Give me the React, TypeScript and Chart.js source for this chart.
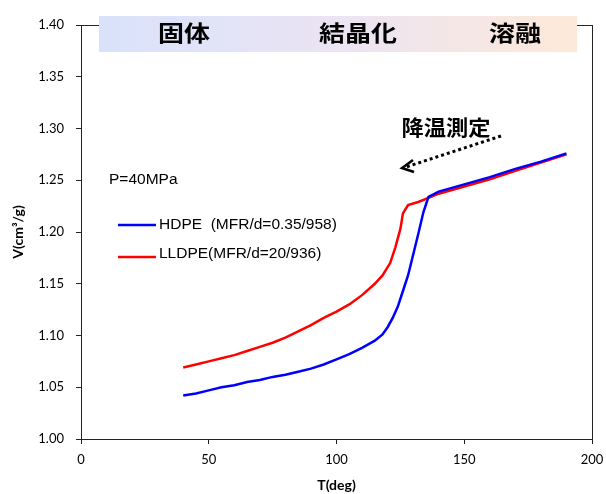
import React, { useEffect, useRef } from "react";
import { Chart, registerables } from "chart.js";

Chart.register(...registerables);

const hdpeT = [40, 45, 50, 55, 60, 65, 70, 75, 80, 85, 90, 95, 100, 105, 110, 115, 118, 120, 122, 124, 126, 128, 130, 132, 134, 136, 140, 150, 160, 170, 180, 190];
const hdpeV = [1.042, 1.044, 1.047, 1.050, 1.052, 1.055, 1.057, 1.060, 1.062, 1.065, 1.068, 1.072, 1.077, 1.082, 1.088, 1.095, 1.101, 1.108, 1.117, 1.128, 1.143, 1.158, 1.178, 1.198, 1.219, 1.234, 1.239, 1.246, 1.253, 1.261, 1.268, 1.276];

const lldpeT = [40, 45, 50, 55, 60, 65, 70, 75, 80, 85, 90, 95, 100, 105, 110, 115, 118, 121, 123, 125, 126, 128, 132, 136, 140, 150, 160, 170, 180, 190];
const lldpeV = [1.069, 1.072, 1.075, 1.078, 1.081, 1.085, 1.089, 1.093, 1.098, 1.104, 1.110, 1.117, 1.123, 1.130, 1.139, 1.150, 1.158, 1.170, 1.185, 1.203, 1.218, 1.226, 1.229, 1.233, 1.237, 1.244, 1.251, 1.259, 1.267, 1.275];

const seriesLabels = ["HDPE  (MFR/d=0.35/958)", "LLDPE(MFR/d=20/936)"];
const seriesColors = ["#0000ff", "#ff0000"];
const phaseLabels = ["固体", "結晶化", "溶融"];
const noteText = "降温測定";
const pressureText = "P=40MPa";
const xTitle = "T(deg)";
const yTitle = "V(cm³/g)";

const decorPlugin = {
  id: "decor",
  beforeDatasetsDraw(chart: any) {
    const { ctx, chartArea } = chart;
    const { left, top, right, bottom } = chartArea;
    ctx.save();
    ctx.strokeStyle = "#222";
    ctx.lineWidth = 1;
    ctx.strokeRect(Math.round(left) + 0.5, Math.round(top) + 0.5, Math.round(right - left), Math.round(bottom - top));
    ctx.restore();
  },
  afterDraw(chart: any) {
    const { ctx } = chart;
    ctx.save();
    // banner
    const bx0 = 99, bx1 = 577, by0 = 16, by1 = 52;
    const g = ctx.createLinearGradient(bx0, 0, bx1, 0);
    g.addColorStop(0, "#d9e2fb");
    g.addColorStop(0.5, "#ebe4f3");
    g.addColorStop(1, "#fde9d8");
    ctx.fillStyle = g;
    ctx.fillRect(bx0, by0, bx1 - bx0, by1 - by0);

    const stretched = (text: string, cx: number, cy: number, size: number, sx: number) => {
      ctx.save();
      ctx.translate(cx, cy);
      ctx.scale(sx, 1);
      ctx.font = `bold ${size}px "Noto Sans CJK JP"`;
      ctx.fillStyle = "#000";
      ctx.textAlign = "center";
      ctx.textBaseline = "middle";
      ctx.fillText(text, 0, 0);
      ctx.restore();
    };
    const centers = [184, 358, 515];
    phaseLabels.forEach((t, i) => stretched(t, centers[i], 33, 22, 1.18));
    stretched(noteText, 446, 127, 21, 1.06);

    // dotted arrow
    ctx.strokeStyle = "#000";
    ctx.lineWidth = 3;
    ctx.setLineDash([3, 3]);
    ctx.beginPath();
    ctx.moveTo(501, 136);
    ctx.lineTo(406, 167);
    ctx.stroke();
    ctx.setLineDash([]);
    ctx.lineWidth = 2.5;
    ctx.beginPath();
    ctx.moveTo(413, 160);
    ctx.lineTo(402, 168);
    ctx.lineTo(414, 172);
    ctx.stroke();

    // pressure text & legend
    ctx.font = '15.5px "Liberation Sans"';
    ctx.fillStyle = "#000";
    ctx.textAlign = "left";
    ctx.textBaseline = "middle";
    ctx.fillText(pressureText, 109, 180);
    const ly = [225, 257];
    const ty = [225, 254];
    seriesLabels.forEach((lab, i) => {
      ctx.strokeStyle = seriesColors[i];
      ctx.lineWidth = 2.5;
      ctx.beginPath();
      ctx.moveTo(118, ly[i]);
      ctx.lineTo(156, ly[i]);
      ctx.stroke();
      ctx.fillStyle = "#000";
      ctx.fillText(lab, 159, ty[i]);
    });
    ctx.restore();
  },
};

export default function App() {
  const ref = useRef<HTMLCanvasElement>(null);
  useEffect(() => {
    if (!ref.current) return;
    const tickFont = { family: "Lato", size: 13 };
    const titleFont = { family: "Lato", size: 14, weight: "bold" as const };
    const chart = new Chart(ref.current, {
      type: "line",
      data: {
        datasets: [
          {
            label: seriesLabels[0],
            data: hdpeT.map((t, i) => ({ x: t, y: hdpeV[i] })),
            borderColor: seriesColors[0],
            backgroundColor: seriesColors[0],
            borderWidth: 2.5,
            pointRadius: 0,
            tension: 0,
          },
          {
            label: seriesLabels[1],
            data: lldpeT.map((t, i) => ({ x: t, y: lldpeV[i] })),
            borderColor: seriesColors[1],
            backgroundColor: seriesColors[1],
            borderWidth: 2.5,
            pointRadius: 0,
            tension: 0,
          },
        ],
      },
      options: {
        animation: false,
        responsive: false,
        devicePixelRatio: 1,
        layout: { padding: { top: 25, right: 14, left: 0, bottom: 0 } },
        plugins: { legend: { display: false }, tooltip: { enabled: false } },
        scales: {
          x: {
            type: "linear",
            min: 0,
            max: 200,
            ticks: { stepSize: 50, font: tickFont, color: "#000", padding: 8, maxRotation: 0 },
            grid: { display: true, drawOnChartArea: false, drawTicks: true, tickLength: 5, color: "#222" },
            border: { display: true, color: "#222", width: 1 },
            title: { display: true, text: xTitle, font: titleFont, color: "#000", padding: 0 },
            afterFit: (s: any) => { s.height = 55; s.paddingLeft = 0; s.paddingRight = 0; },
          },
          y: {
            type: "linear",
            min: 1.0,
            max: 1.4,
            ticks: { stepSize: 0.05, font: tickFont, color: "#000", padding: 12, callback: (v: any) => Number(v).toFixed(2) },
            grid: { display: true, drawOnChartArea: false, drawTicks: true, tickLength: 5, color: "#222" },
            border: { display: true, color: "#222", width: 1 },
            title: { display: true, text: yTitle, font: titleFont, color: "#000", padding: { top: 10, bottom: 0 } },
            afterFit: (s: any) => { s.width = 81; s.paddingTop = 0; s.paddingBottom = 0; },
          },
        },
      },
      plugins: [decorPlugin],
    });
    return () => chart.destroy();
  }, []);
  return (
    <div style={{ position: "absolute", left: 0, top: 0, width: 606, height: 494, background: "#fff" }}>
      <canvas ref={ref} width={606} height={494} style={{ display: "block", width: 606, height: 494 }} />
    </div>
  );
}
